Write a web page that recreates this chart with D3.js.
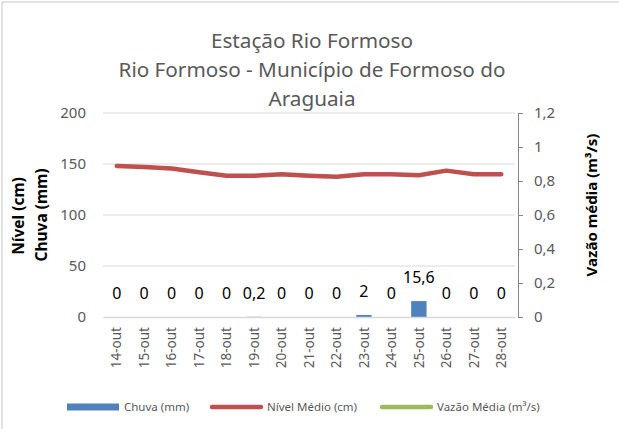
<!DOCTYPE html>
<html><head><meta charset="utf-8">
<script src="https://cdn.jsdelivr.net/npm/d3@7"></script>
<style>body{margin:0;background:#fff}svg{display:block;font-family:"Noto Sans",sans-serif}</style>
</head><body><svg id="c" width="619" height="429"></svg>
<script>
const categories = ["14-out","15-out","16-out","17-out","18-out","19-out","20-out","21-out","22-out","23-out","24-out","25-out","26-out","27-out","28-out"];
const chuva = [0,0,0,0,0,0.2,0,0,0,2,0,15.6,0,0,0];
const nivel = [148,147,145.5,142,138.5,138.5,140,138.5,137.5,140,140,139,143.5,140,140];
const vazao = [];
const leftTicks = [0,50,100,150,200];
const rightTicks = [0,0.2,0.4,0.6,0.8,1,1.2];
const titleLines = ["Estação Rio Formoso","Rio Formoso - Município de Formoso do","Araguaia"];

const svg = d3.select("#c");
const grey = "#595959";
svg.append("rect").attr("x",2).attr("y",2).attr("width",630).attr("height",440)
  .attr("fill","#fff").attr("stroke","#d9d9d9").attr("stroke-width",1.5);

const L=103, R=515, T=113, B=317;
const x = d3.scaleBand().domain(categories).range([L,R]);
const yL = d3.scaleLinear().domain([0,200]).range([B,T]);
const yR = d3.scaleLinear().domain([0,1.2]).range([B,T]);
const fmt = d3.format(",.1~f");
const br = v => fmt(v).replace(".",",");

// gridlines
svg.append("g").selectAll("line").data(leftTicks.filter(d=>d>0)).join("line")
  .attr("x1",L).attr("x2",R).attr("y1",d=>yL(d)).attr("y2",d=>yL(d))
  .attr("stroke","#d9d9d9").attr("stroke-width",1);

// left axis labels
const ga = svg.append("g").attr("transform",`translate(${L},0)`)
  .call(d3.axisLeft(yL).tickValues(leftTicks).tickSize(0).tickPadding(17));
ga.select(".domain").remove();
ga.selectAll("text").attr("font-size",15).attr("fill",grey).attr("font-family","Noto Sans");

// right axis
const gr = svg.append("g").attr("transform",`translate(518,0)`)
  .call(d3.axisRight(yR).tickValues(rightTicks).tickSize(5).tickPadding(11).tickFormat(br).tickSizeOuter(5));
gr.select(".domain").attr("stroke","#868686");
gr.selectAll(".tick line").attr("stroke","#868686");
gr.selectAll("text").attr("font-size",15).attr("fill",grey).attr("font-family","Noto Sans");

// bars
svg.append("g").selectAll("rect").data(chuva).join("rect")
  .attr("x",(d,i)=>x(categories[i])+x.bandwidth()*0.22)
  .attr("width",x.bandwidth()*0.56)
  .attr("y",d=>yL(d)).attr("height",d=>B-yL(d))
  .attr("fill","#4f81bd");

// x axis
const gx = svg.append("g").attr("transform",`translate(0,${B})`)
  .call(d3.axisBottom(x).tickSize(0).tickSizeOuter(0));
gx.select(".domain").attr("stroke","#d9d9d9").attr("stroke-width",1.5);
gx.selectAll("text").attr("font-size",13.5).attr("fill",grey).attr("font-family","Noto Sans")
  .attr("transform","rotate(-90)").attr("text-anchor","end").attr("dy","0.35em").attr("dx","-10").attr("y",0).attr("x",0);

// line
const line = d3.line().x((d,i)=>x(categories[i])+x.bandwidth()/2).y(d=>yL(d));
svg.append("path").datum(nivel).attr("d",line).attr("fill","none")
  .attr("stroke","#c0504d").attr("stroke-width",4.5).attr("stroke-linecap","round").attr("stroke-linejoin","round");
if (vazao.length) svg.append("path").datum(vazao).attr("d",d3.line().x((d,i)=>x(categories[i])+x.bandwidth()/2).y(d=>yR(d)))
  .attr("fill","none").attr("stroke","#9bbb59").attr("stroke-width",4.5);

// data labels
svg.append("g").selectAll("text").data(chuva).join("text")
  .attr("x",(d,i)=>x(categories[i])+x.bandwidth()/2).attr("y",d=>yL(d)-18)
  .attr("text-anchor","middle").attr("font-size",16).attr("fill","#000").text(d=>br(d));

// title
svg.append("g").selectAll("text").data(titleLines).join("text")
  .attr("x",312).attr("y",(d,i)=>48+i*29).attr("text-anchor","middle")
  .attr("font-size",20.7).attr("fill",grey).text(d=>d);

// axis titles
svg.append("text").attr("transform","translate(24,216) rotate(-90)").attr("text-anchor","middle")
  .attr("font-size",15.5).attr("font-weight","bold").attr("fill","#000").text("Nível (cm)");
svg.append("text").attr("transform","translate(47,215) rotate(-90)").attr("text-anchor","middle")
  .attr("font-size",15.5).attr("font-weight","bold").attr("fill","#000").text("Chuva (mm)");
svg.append("text").attr("transform","translate(597,205) rotate(-90)").attr("text-anchor","middle")
  .attr("font-size",15).attr("font-weight","bold").attr("fill","#000").text("Vazão média (m³/s)");

// legend
const legend = [
  {name:"Chuva (mm)", type:"rect", color:"#4f81bd", x:67},
  {name:"Nível Médio (cm)", type:"line", color:"#c0504d", x:210},
  {name:"Vazão Média (m³/s)", type:"line", color:"#9bbb59", x:380}
];
const lg = svg.append("g");
legend.forEach(l=>{
  if(l.type==="rect") lg.append("rect").attr("x",l.x).attr("y",403.5).attr("width",52).attr("height",7).attr("fill",l.color);
  else lg.append("line").attr("x1",l.x+2).attr("x2",l.x+51).attr("y1",407).attr("y2",407)
    .attr("stroke",l.color).attr("stroke-width",4.5).attr("stroke-linecap","round");
  lg.append("text").attr("x",l.x+57).attr("y",411).attr("font-size",11.5).attr("fill",grey).text(l.name);
});
</script></body></html>
